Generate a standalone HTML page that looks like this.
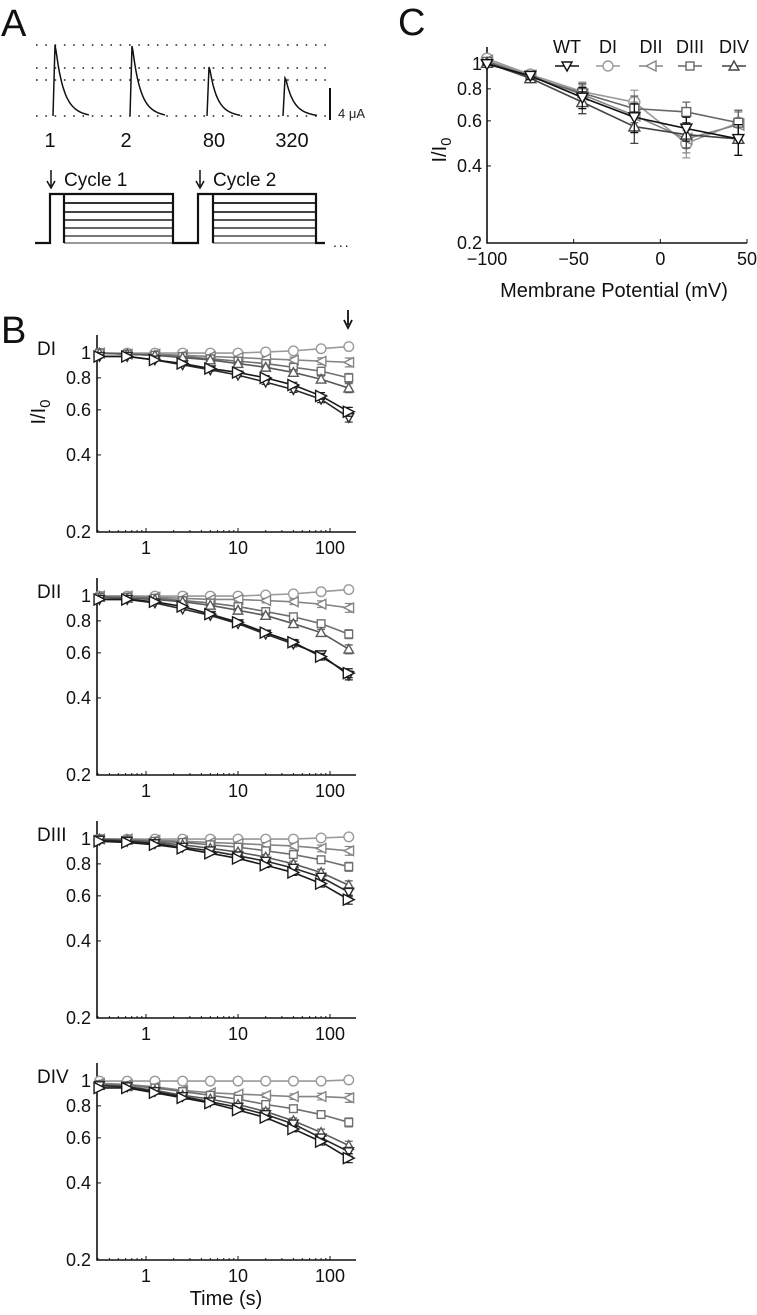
<!DOCTYPE html>
<html><head><meta charset="utf-8"><style>
html,body{margin:0;padding:0;background:#fff;}
svg text{font-family:"Liberation Sans",sans-serif;}
</style></head><body>
<svg id="fig" width="757" height="1310" viewBox="0 0 757 1310" xmlns="http://www.w3.org/2000/svg">
<g id="panelA">
<text x="1" y="36" font-size="38" fill="#111">A</text>
<g stroke="#222" stroke-width="1.6" stroke-dasharray="1.6 7.7">
<line x1="36" y1="45" x2="326" y2="45"/><line x1="36" y1="68" x2="326" y2="68"/>
<line x1="36" y1="80" x2="326" y2="80"/><line x1="36" y1="116" x2="326" y2="116"/>
</g>
<g id="traces" fill="none" stroke="#111" stroke-width="1.5"></g>
<line x1="330" y1="88" x2="330" y2="120" stroke="#111" stroke-width="2"/>
<text x="338" y="118" font-size="13" fill="#222">4 μA</text>
<g font-size="20" fill="#111" text-anchor="middle">
<text x="50" y="147">1</text><text x="126" y="147">2</text><text x="214" y="147">80</text><text x="292" y="147">320</text>
</g>
<g>
<text x="64" y="186" font-size="19" fill="#111">Cycle 1</text>
<text x="213" y="186" font-size="19" fill="#111">Cycle 2</text>
<path d="M51 170 L51 186 M47 181 L51 188 L55 181" stroke="#111" stroke-width="1.5" fill="none"/>
<path d="M200 170 L200 186 M196 181 L200 188 L204 181" stroke="#111" stroke-width="1.5" fill="none"/>
<g id="steps"></g>
<path d="M35 243 L50 243 L50 194 L173 194 L173 243 L198 243 L198 194 L316 194 L316 243 L325 243 M64 194 L64 243 M213 194 L213 243" stroke="#111" stroke-width="2.2" fill="none"/>
<text x="333" y="247" font-size="14" fill="#111" letter-spacing="2">...</text>
</g>
</g>
<g id="panelB">
<text x="1" y="343" font-size="38" fill="#111">B</text>
<path d="M348 310 L348 325 M344 320 L348 328 L352 320" stroke="#111" stroke-width="1.8" fill="none"/>
</g>
<g id="panelC">
<text x="398" y="35" font-size="38" fill="#111">C</text>
</g>
</svg>
<script>
// ---------- Panel B data ----------
const times = [0.3125,0.625,1.25,2.5,5,10,20,40,80,160];
const seriesNames = ['DI','DII','DIII','DIV','WT','mutant'];
const seriesMarkers = ['o','<','s','^','v','>'];
const seriesColors = ['#9a9a9a','#858585','#707070','#5a5a5a','#2a2a2a','#1a1a1a'];
const yTicksB = [0.2,0.4,0.6,0.8,1];
const xTicksB = [1,10,100];
const panelTitles = ['DI','DII','DIII','DIV'];
const DI_o = [1,1,1,1,1,1,1.01,1.02,1.04,1.06];
const DI_l = [1,0.99,0.99,0.98,0.97,0.96,0.95,0.94,0.93,0.92];
const DI_s = [1,0.99,0.98,0.97,0.95,0.93,0.91,0.88,0.85,0.80];
const DI_t = [1,0.99,0.98,0.96,0.94,0.91,0.88,0.84,0.79,0.73];
const DI_w = [0.97,0.97,0.94,0.90,0.86,0.82,0.77,0.72,0.66,0.56];
const DI_r = [0.97,0.97,0.94,0.91,0.87,0.84,0.80,0.75,0.68,0.59];
const DII_o = [1,1,1,1,1,1,1.01,1.02,1.04,1.06];
const DII_l = [1,1,0.99,0.98,0.97,0.97,0.96,0.95,0.93,0.90];
const DII_s = [0.99,0.99,0.98,0.96,0.94,0.91,0.87,0.83,0.78,0.71];
const DII_t = [0.99,0.98,0.97,0.95,0.92,0.88,0.84,0.78,0.72,0.62];
const DII_w = [0.97,0.97,0.94,0.89,0.84,0.78,0.71,0.65,0.59,0.49];
const DII_r = [0.97,0.97,0.95,0.91,0.85,0.79,0.72,0.66,0.58,0.50];
const DIII_o = [1,1,1,1,1,1,1,1,1.01,1.02];
const DIII_l = [1,1,0.99,0.98,0.97,0.96,0.95,0.94,0.92,0.90];
const DIII_s = [1,0.99,0.98,0.97,0.95,0.93,0.90,0.87,0.83,0.78];
const DIII_t = [1,0.99,0.97,0.95,0.92,0.89,0.85,0.80,0.74,0.66];
const DIII_w = [0.99,0.98,0.96,0.93,0.90,0.86,0.82,0.77,0.71,0.62];
const DIII_r = [0.98,0.97,0.95,0.92,0.88,0.84,0.79,0.74,0.67,0.58];
const DIV_o = [1,1,1,1,1,1,1,1,1,1.01];
const DIV_l = [0.98,0.97,0.95,0.92,0.90,0.89,0.88,0.87,0.87,0.86];
const DIV_s = [0.97,0.96,0.94,0.91,0.88,0.85,0.81,0.78,0.74,0.69];
const DIV_t = [0.96,0.95,0.92,0.88,0.85,0.81,0.76,0.70,0.63,0.56];
const DIV_w = [0.96,0.95,0.91,0.87,0.83,0.79,0.74,0.68,0.60,0.53];
const DIV_r = [0.94,0.94,0.90,0.86,0.82,0.77,0.72,0.65,0.58,0.50];
const errB = [0,0,0.005,0.01,0.012,0.015,0.02,0.025,0.03,0.04];
// ---------- Panel C data ----------
const voltages = [-100,-75,-45,-15,15,45];
const C_WT = [1.0,0.90,0.74,0.62,0.56,0.51];
const C_DI = [1.05,0.91,0.78,0.71,0.49,0.59];
const C_DII = [1.03,0.90,0.76,0.63,0.51,0.58];
const C_DIII = [1.02,0.89,0.77,0.67,0.65,0.59];
const C_DIV = [1.01,0.88,0.71,0.57,0.53,0.51];
const C_err = [0.01,0.03,0.07,0.08,0.06,0.07];
const xTicksC = [-100,-50,0,50];
const yTicksC = [0.2,0.4,0.6,0.8,1];

const NS='http://www.w3.org/2000/svg';
const svg=document.getElementById('fig');
function mk(tag,attrs,parent){const e=document.createElementNS(NS,tag);for(const k in attrs)e.setAttribute(k,attrs[k]);(parent||svg).appendChild(e);return e;}

// Panel A traces (illustrative)
const tr=document.getElementById('traces');
[[53,45,34],[130,46,33],[207,67,31],[283,78,32]].forEach(([x0,pk,w])=>{
  let d=`M${x0} 116 L${x0+2} ${pk}`;
  for(let i=1;i<=30;i++){const t=i/30;d+=` L${(x0+2+t*w).toFixed(1)} ${(116-(116-pk)*Math.exp(-t*4.2)-8*(1-t)*0.4).toFixed(1)}`;}
  mk('path',{d:d},tr);
});
const st=document.getElementById('steps');
[[203,'#333'],[212,'#444'],[220,'#555'],[228,'#666'],[236,'#777'],[243,'#999']].forEach(([y,c])=>{
  mk('line',{x1:64,x2:173,y1:y,y2:y,stroke:c,'stroke-width':2},st);
  mk('line',{x1:213,x2:316,y1:y,y2:y,stroke:c,'stroke-width':2},st);
});

function marker(g,type,cx,cy,r,color){
  let e;
  if(type==='o') e=mk('circle',{cx:cx,cy:cy,r:r},g);
  else if(type==='s') e=mk('rect',{x:cx-r*0.8,y:cy-r*0.8,width:r*1.6,height:r*1.6},g);
  else{
    let p;
    if(type==='>') p=[[cx-r,cy-r],[cx+r,cy],[cx-r,cy+r]];
    if(type==='<') p=[[cx+r,cy-r],[cx-r,cy],[cx+r,cy+r]];
    if(type==='^') p=[[cx-r,cy+r*0.8],[cx+r,cy+r*0.8],[cx,cy-r]];
    if(type==='v') p=[[cx-r,cy-r*0.8],[cx+r,cy-r*0.8],[cx,cy+r]];
    e=mk('polygon',{points:p.map(q=>q.join(',')).join(' ')},g);
  }
  e.setAttribute('fill','#fff');e.setAttribute('stroke',color);e.setAttribute('stroke-width','1.4');
  return e;
}

// Panel B plots
const bData=[[DI_o,DI_l,DI_s,DI_t,DI_w,DI_r],[DII_o,DII_l,DII_s,DII_t,DII_w,DII_r],[DIII_o,DIII_l,DIII_s,DIII_t,DIII_w,DIII_r],[DIV_o,DIV_l,DIV_s,DIV_t,DIV_w,DIV_r]];
const bBottoms=[532,775,1018,1260];
const PXD_Y=256, PXD_X=92, X10=238, AXL=97, AXR=356;
const xB=t=>X10+PXD_X*Math.log10(t/10);
const pB=document.getElementById('panelB');
bData.forEach((data,pi)=>{
  const b=bBottoms[pi];
  const yB=v=>b-PXD_Y*Math.log10(v/0.2);
  const g=mk('g',{},pB);
  
  
  const t=mk('text',{x:37,y:b-177,'font-size':19,fill:'#111'},g);t.textContent=panelTitles[pi];
  
  
  mk('path',{d:`M${AXL} ${b-197} L${AXL} ${b} L${AXR} ${b}`,stroke:'#111','stroke-width':1.6,fill:'none'},g);
  yTicksB.forEach(v=>{const y=yB(v);
    mk('line',{x1:AXL,x2:AXL+4,y1:y,y2:y,stroke:'#111','stroke-width':1},g);
    const tx=mk('text',{x:AXL-6,y:y+6,'font-size':18,fill:'#111','text-anchor':'end'},g);tx.textContent=String(v);
    
    
  });
  for(let dec=-1;dec<=2;dec++)for(let m=1;m<10;m++){const tv=m*Math.pow(10,dec);const x=xB(tv);if(x<AXL||x>AXR)continue;
    mk('line',{x1:x,x2:x,y1:b,y2:b-(m===1?4:2),stroke:'#111','stroke-width':1},g);}
  xTicksB.forEach(v=>{const tx=mk('text',{x:xB(v),y:b+22,'font-size':18,fill:'#111','text-anchor':'middle'},g);tx.textContent=String(v);
    
    });
  data.forEach((vals,si)=>{
    const c=seriesColors[si];
    const sg=mk('g',{},g);
    
    
    mk('polyline',{points:vals.map((v,i)=>xB(times[i])+','+yB(v)).join(' '),fill:'none',stroke:c,'stroke-width':1.6},sg);
    vals.forEach((v,i)=>{const e=errB[i];if(e>0&&si>0){const x=xB(times[i]);
      mk('path',{d:`M${x} ${yB(v*(1+e))} L${x} ${yB(v*(1-e))} M${x-4} ${yB(v*(1+e))} L${x+4} ${yB(v*(1+e))} M${x-4} ${yB(v*(1-e))} L${x+4} ${yB(v*(1-e))}`,stroke:c,'stroke-width':1.2},sg);}});
    vals.forEach((v,i)=>marker(sg,seriesMarkers[si],xB(times[i]),yB(v),si===5?5.5:4.8,c));
  });
});
const ylab=mk('text',{x:0,y:0,'font-size':20,fill:'#111','text-anchor':'middle',transform:'translate(45,412) rotate(-90)'},pB);
ylab.innerHTML='I/I<tspan font-size="15" dy="5">0</tspan>';


const xlab=mk('text',{x:226,y:1305,'font-size':20,fill:'#111','text-anchor':'middle'},pB);xlab.textContent='Time (s)';



// Panel C
const pC=document.getElementById('panelC');
const CL=487,CR=747,CB=243;
const xC=v=>CL+(v+100)*(CR-CL)/150;
const yC=v=>CB-PXD_Y*Math.log10(v/0.2);
mk('path',{d:`M${CL} 47 L${CL} ${CB} L${CR} ${CB}`,stroke:'#111','stroke-width':1.6,fill:'none'},pC);
yTicksC.forEach(v=>{const y=yC(v);
  mk('line',{x1:CL,x2:CL+4,y1:y,y2:y,stroke:'#111'},pC);
  const tx=mk('text',{x:CL-5,y:y+6,'font-size':18,fill:'#111','text-anchor':'end'},pC);tx.textContent=String(v);
  
  });
xTicksC.forEach(v=>{const x=xC(v);
  mk('line',{x1:x,x2:x,y1:CB,y2:CB-4,stroke:'#111'},pC);
  const tx=mk('text',{x:x,y:CB+22,'font-size':18,fill:'#111','text-anchor':'middle'},pC);tx.textContent=(v<0?'\u2212'+(-v):String(v));
  
  });
const cSeries=[[C_DI,'o','#9a9a9a','DI'],[C_DII,'<','#858585','DII'],[C_DIII,'s','#666','DIII'],[C_DIV,'^','#444','DIV'],[C_WT,'v','#111','WT']];
cSeries.forEach(([vals,m,c,n])=>{
  const sg=mk('g',{},pC);
  
  
  mk('polyline',{points:vals.map((v,i)=>xC(voltages[i])+','+yC(v)).join(' '),fill:'none',stroke:c,'stroke-width':1.6},sg);
  vals.forEach((v,i)=>{const e=C_err[i];const x=xC(voltages[i]);
    mk('path',{d:`M${x} ${yC(v+e)} L${x} ${yC(v-e)} M${x-4} ${yC(v+e)} L${x+4} ${yC(v+e)} M${x-4} ${yC(v-e)} L${x+4} ${yC(v-e)}`,stroke:c,'stroke-width':1.3},sg);});
  vals.forEach((v,i)=>marker(sg,m,xC(voltages[i]),yC(v),5.5,c));
});
const legC=[['WT','v','#111',567],['DI','o','#9a9a9a',608],['DII','<','#858585',651],['DIII','s','#666',690],['DIV','^','#444',734]];
legC.forEach(([n,m,c,x])=>{
  const lg=mk('g',{},pC);
  
  
  const t=mk('text',{x:x,y:53,'font-size':18,fill:'#111','text-anchor':'middle'},lg);t.textContent=n;
  mk('line',{x1:x-12,x2:x+12,y1:66,y2:66,stroke:c,'stroke-width':1.6},lg);
  marker(lg,m,x,66,5,c);
});
const cyl=mk('text',{x:0,y:0,'font-size':20,fill:'#111','text-anchor':'middle',transform:'translate(446,150) rotate(-90)'},pC);
cyl.innerHTML='I/I<tspan font-size="15" dy="5">0</tspan>';


const cxl=mk('text',{x:614,y:297,'font-size':20,fill:'#111','text-anchor':'middle'},pC);cxl.textContent='Membrane Potential (mV)';


</script>
</body></html>
